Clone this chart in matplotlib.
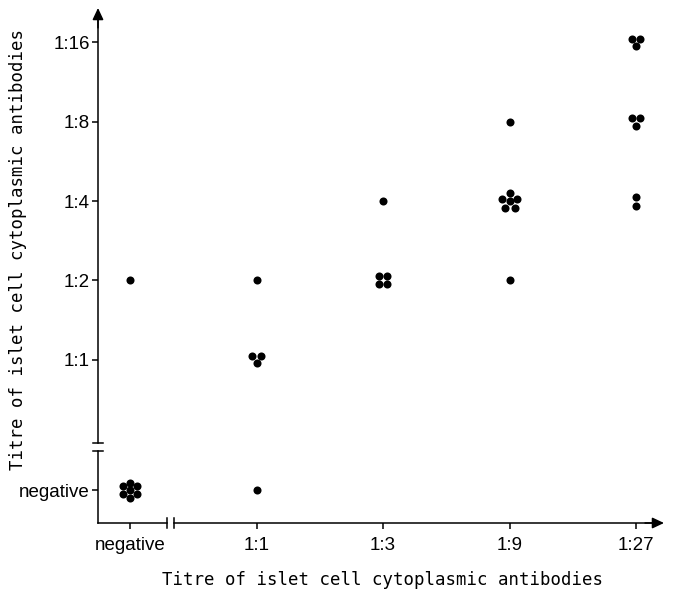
import numpy as np
import matplotlib
matplotlib.use('Agg')
import matplotlib.pyplot as plt

plt.rcParams['font.family'] = ['Liberation Sans', 'DejaVu Sans']

# Kategorie osi
x_cat = ['negative', '1:1', '1:3', '1:9', '1:27']
y_cat = ['negative', '1:1', '1:2', '1:4', '1:8', '1:16']

# Pary mian (x, y) i liczba pacjentow w kazdej komorce
pair_x = ['negative', 'negative', '1:1', '1:1', '1:1', '1:3', '1:3',
          '1:9', '1:9', '1:9', '1:27', '1:27', '1:27']
pair_y = ['negative', '1:2', 'negative', '1:1', '1:2', '1:2', '1:4',
          '1:2', '1:4', '1:8', '1:4', '1:8', '1:16']
n_patients = [7, 1, 1, 3, 1, 4, 1, 1, 6, 1, 2, 3, 3]

# Uklad (pozycje kategorii na osiach, z przerwa przy "negative")
x_pos = [0, 1, 2, 3, 4]
y_pos = [-0.645, 1, 2, 3, 4, 5]
xmin, xmax = -0.253, 4.221
ymin, ymax = -1.06, 5.434
px_x, px_y = 126.5, 79.3   # pikseli na jednostke danych

# Rozmieszczenie kropek w skupisku (piksele, y w dol)
layouts = {
    1: [(0, 0)],
    2: [(0, -4.5), (0, 4.5)],
    3: [(-4.2, -3.6), (4.2, -3.6), (0, 3.8)],
    4: [(-4, -4), (4, -4), (-4, 4), (4, 4)],
    6: [(0, -8.5), (-7.5, -1.8), (0, 0), (7.5, -1.8), (-5, 7), (5, 7)],
    7: [(0, -7.5), (-6.7, -3.8), (6.7, -3.8), (0, 0),
        (-6.7, 3.6), (6.7, 3.6), (0, 7.5)],
}

fig = plt.figure(figsize=(6.75, 5.93), dpi=100)
ax = fig.add_axes([98 / 675, 70 / 593, 566 / 675, 515 / 593])
ax.set_xlim(xmin, xmax)
ax.set_ylim(ymin, ymax)
for s in ax.spines.values():
    s.set_visible(False)

# Kropki
for xc, yc, n in zip(pair_x, pair_y, n_patients):
    cx = x_pos[x_cat.index(xc)]
    cy = y_pos[y_cat.index(yc)]
    offs = np.array(layouts[n], dtype=float)
    ax.plot(cx + offs[:, 0] / px_x, cy - offs[:, 1] / px_y, 'o',
            color='black', ms=5.8, mec='black', mew=0, clip_on=False)

# Osie z przerwami
lw = 1.1
xb1, xb2 = 0.2925, 0.348
yb1, yb2 = -0.153, -0.052
ax.plot([xmin, xb1], [ymin, ymin], color='black', lw=lw, clip_on=False)
ax.plot([xb2, xmax - 0.05], [ymin, ymin], color='black', lw=lw, clip_on=False)
ax.plot([xmin, xmin], [ymin, yb1], color='black', lw=lw, clip_on=False)
ax.plot([xmin, xmin], [yb2, ymax - 0.08], color='black', lw=lw, clip_on=False)
for xb in (xb1, xb2):
    ax.plot([xb, xb], [ymin - 5 / px_y, ymin + 5 / px_y], color='black', lw=lw, clip_on=False)
for yb in (yb1, yb2):
    ax.plot([xmin - 5 / px_x, xmin + 5 / px_x], [yb, yb], color='black', lw=lw, clip_on=False)

arrow = dict(arrowstyle='-|>,head_length=0.7,head_width=0.33', color='black', lw=lw,
             shrinkA=0, shrinkB=0)
ax.annotate('', xy=(xmax, ymin), xytext=(xmax - 0.15, ymin), arrowprops=arrow,
            annotation_clip=False)
ax.annotate('', xy=(xmin, ymax), xytext=(xmin, ymax - 0.25), arrowprops=arrow,
            annotation_clip=False)

# Podzialki i etykiety
ax.set_xticks(x_pos)
ax.set_xticklabels(x_cat)
ax.set_yticks(y_pos)
ax.set_yticklabels(y_cat)
ax.tick_params(axis='both', direction='out', length=4, width=lw, labelsize=13.5)
ax.tick_params(axis='x', pad=6)
ax.tick_params(axis='y', pad=2)

label_font = dict(family=['DejaVu Sans Mono'], fontsize=12.5)
fig.text(382 / 675, 1 - 580 / 593, 'Titre of islet cell cytoplasmic antibodies',
         ha='center', va='center', **label_font)
fig.text(18 / 675, 1 - 250 / 593, 'Titre of islet cell cytoplasmic antibodies',
         ha='center', va='center', rotation=90, **label_font)

fig.savefig('out.png', dpi=100)
